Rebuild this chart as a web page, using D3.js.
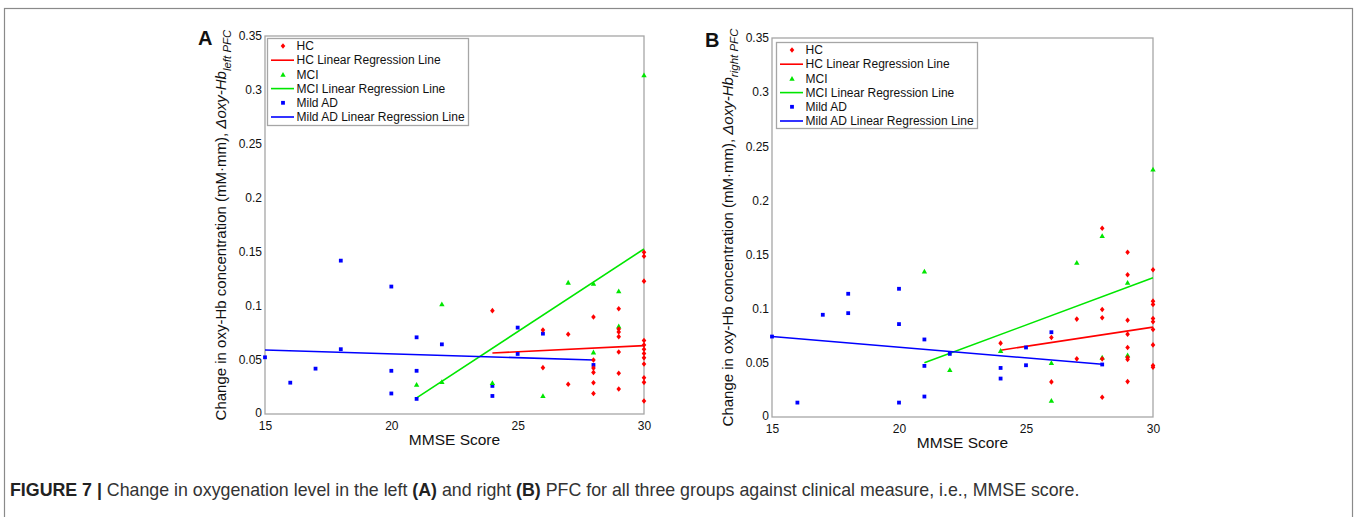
<!DOCTYPE html>
<html>
<head>
<meta charset="utf-8">
<script src="https://cdn.jsdelivr.net/npm/d3@7"></script>
<style>
  html, body { margin: 0; padding: 0; background: #fff; }
  svg { display: block; font-family: "Liberation Sans", Arial, Helvetica, sans-serif; }
</style>
</head>
<body>
<svg id="chart" width="1359" height="517"></svg>
<script>
// ---------------- DATA ----------------
const xTicks = [15, 20, 25, 30];
const xTickLabels = ["15", "20", "25", "30"];
const yTicks = [0, 0.05, 0.1, 0.15, 0.2, 0.25, 0.3, 0.35];
const yTickLabels = ["0", "0.05", "0.1", "0.15", "0.2", "0.25", "0.3", "0.35"];
const legendLabels = ["HC", "HC Linear Regression Line", "MCI", "MCI Linear Regression Line", "Mild AD", "Mild AD Linear Regression Line"];
const panelLetters = ["A", "B"];
const xAxisTitle = "MMSE Score";
const yTitleMain = "Change in oxy-Hb concentration (mM\u00B7mm), ";
const yTitleDelta = "\u0394oxy-Hb";
const yTitleSubs = ["left PFC", "right PFC"];

// Panel A (left PFC)
const hcLeft = [[24,0.0957],[26,0.0778],[26,0.0429],[27,0.0738],[27,0.0275],
  [28,0.0898],[28,0.050],[28,0.0425],[28,0.0385],[28,0.029],[28,0.019],
  [29,0.0975],[29,0.0787],[29,0.076],[29,0.0716],[29,0.0574],[29,0.0377],[29,0.0231],
  [30,0.1497],[30,0.146],[30,0.123],[30,0.068],[30,0.064],[30,0.060],[30,0.056],[30,0.052],[30,0.0463],[30,0.0336],[30,0.0293],[30,0.012]];
const mciLeft = [[21,0.0275],[22,0.102],[22,0.030],[24,0.029],[26,0.017],[27,0.122],
  [28,0.121],[28,0.0574],[29,0.114],[29,0.0815],[30,0.314]];
const adLeft = [[15,0.0525],[16,0.029],[17,0.042],[18,0.142],[18,0.060],
  [20,0.118],[20,0.040],[20,0.019],[21,0.071],[21,0.040],[21,0.014],
  [22,0.0645],[24,0.026],[24,0.0167],[25,0.080],[25,0.0556],[26,0.0744],[28,0.0454]];
const hcLineLeft = [[24,0.0565],[30,0.0633]];
const mciLineLeft = [[21,0.015],[30,0.1528]];
const adLineLeft = [[15,0.0593],[28,0.0500]];

// Panel B (right PFC)
const hcRight = [[24,0.0682],[26,0.0734],[26,0.0324],[27,0.0904],[27,0.0537],
  [28,0.1743],[28,0.0993],[28,0.0916],[28,0.0537],[28,0.0182],
  [29,0.1521],[29,0.1314],[29,0.0894],[29,0.0765],[29,0.0642],[29,0.0549],[29,0.0531],[29,0.0327],
  [30,0.136],[30,0.107],[30,0.104],[30,0.091],[30,0.0879],[30,0.0808],[30,0.0666],[30,0.0475],[30,0.046]];
const mciRight = [[21,0.1348],[22,0.0438],[24,0.0614],[26,0.0503],[26,0.0154],[27,0.1428],
  [28,0.1675],[28,0.0552],[29,0.1243],[29,0.0574],[30,0.2289]];
const adRight = [[15,0.0743],[16,0.0133],[17,0.0944],[18,0.1138],[18,0.0959],
  [20,0.1184],[20,0.0858],[20,0.0133],[21,0.0716],[21,0.0472],[21,0.0189],
  [22,0.0583],[24,0.0453],[24,0.0355],[25,0.0642],[25,0.0478],[26,0.0783],[28,0.0485]];
const hcLineRight = [[24,0.0617],[30,0.083]];
const mciLineRight = [[21,0.050],[30,0.1286]];
const adLineRight = [[15,0.0743],[28,0.0487]];

const captionParts = [
  {t: "FIGURE 7 | ", b: true},
  {t: "Change in oxygenation level in the left ", b: false},
  {t: "(A)", b: true},
  {t: " and right ", b: false},
  {t: "(B)", b: true},
  {t: " PFC for all three groups against clinical measure, i.e., MMSE score.", b: false}
];

// ---------------- DRAWING ----------------
const svg = d3.select("#chart");
const RED = "#ff0000", GREEN = "#00e600", BLUE = "#0000ff", BOX = "#a6a6a6";

// figure frame
svg.append("rect").attr("x", 4.5).attr("y", 8.5).attr("width", 1348).attr("height", 530)
  .attr("fill", "none").attr("stroke", "#8a8a8a").attr("stroke-width", 1.2);

const diamond = { draw(ctx, s) { const w = 2.3, h = 2.8; ctx.moveTo(0,-h); ctx.lineTo(w,0); ctx.lineTo(0,h); ctx.lineTo(-w,0); ctx.closePath(); } };
const triangle = { draw(ctx, s) { const w = 2.7, h = 2.4; ctx.moveTo(0,-h); ctx.lineTo(w,h); ctx.lineTo(-w,h); ctx.closePath(); } };
const square = { draw(ctx, s) { const r = 1.9; ctx.rect(-r,-r,2*r,2*r); } };

const panels = [
  { left: 265, right: 644, top: 36, bottom: 414, hc: hcLeft, mci: mciLeft, ad: adLeft,
    lines: [hcLineLeft, mciLineLeft, adLineLeft], sub: yTitleSubs[0], letter: panelLetters[0],
    legend: {x: 267, y: 38, w: 201, h: 87} },
  { left: 772, right: 1153, top: 38, bottom: 417, hc: hcRight, mci: mciRight, ad: adRight,
    lines: [hcLineRight, mciLineRight, adLineRight], sub: yTitleSubs[1], letter: panelLetters[1],
    legend: {x: 776, y: 42, w: 201, h: 86} }
];

panels.forEach(p => {
  const x = d3.scaleLinear().domain([15, 30]).range([p.left, p.right]);
  const y = d3.scaleLinear().domain([0, 0.35]).range([p.bottom, p.top]);
  const g = svg.append("g");

  // plot box
  g.append("rect").attr("x", p.left).attr("y", p.top).attr("width", p.right - p.left).attr("height", p.bottom - p.top)
    .attr("fill", "none").attr("stroke", BOX).attr("stroke-width", 1.3);

  const xAxis = d3.axisBottom(x).tickValues(xTicks).tickFormat((d, i) => xTickLabels[i]).tickSize(0).tickPadding(7);
  const yAxis = d3.axisLeft(y).tickValues(yTicks).tickFormat((d, i) => yTickLabels[i]).tickSize(0).tickPadding(3);
  const gx = g.append("g").attr("transform", `translate(0,${p.bottom})`).call(xAxis);
  const gy = g.append("g").attr("transform", `translate(${p.left},0)`).call(yAxis);
  [gx, gy].forEach(a => {
    a.select(".domain").remove();
    a.selectAll("text").attr("font-size", 12).attr("fill", "#111").attr("font-family", "Liberation Sans, Arial, sans-serif");
  });
  gy.selectAll("text").filter(d => d === 0).attr("dy", "0.2em");

  // axis titles
  g.append("text").attr("x", (p.left + p.right) / 2).attr("y", p.bottom + 31)
    .attr("text-anchor", "middle").attr("font-size", 15.5).attr("fill", "#111").text(xAxisTitle);

  const yt = g.append("text")
    .attr("transform", `translate(${p.left - 39},${(p.top + p.bottom) / 2}) rotate(-90)`)
    .attr("text-anchor", "middle").attr("font-size", 15).attr("fill", "#111");
  yt.append("tspan").text(yTitleMain);
  yt.append("tspan").attr("font-style", "italic").text(yTitleDelta);
  yt.append("tspan").attr("font-style", "italic").attr("font-size", 11.5).attr("dy", 5).text(p.sub);

  // panel letter
  g.append("text").attr("x", p.left - 67).attr("y", p.top + 9).attr("font-size", 20).attr("font-weight", "bold")
    .attr("fill", "#111").text(p.letter);

  // regression lines
  const colors = [RED, GREEN, BLUE];
  const line = d3.line().x(d => x(d[0])).y(d => y(d[1]));
  p.lines.forEach((ln, i) => {
    g.append("path").attr("d", line(ln)).attr("fill", "none").attr("stroke", colors[i]).attr("stroke-width", 1.6);
  });

  // points
  const sym = t => d3.symbol().type(t)();
  const drawPts = (data, type, color) => {
    g.append("g").selectAll("path").data(data).join("path")
      .attr("d", sym(type)).attr("fill", color)
      .attr("transform", d => `translate(${x(d[0])},${y(d[1])})`);
  };
  drawPts(p.ad, square, BLUE);
  drawPts(p.mci, triangle, GREEN);
  drawPts(p.hc, diamond, RED);

  // legend
  const L = p.legend;
  const lg = g.append("g");
  lg.append("rect").attr("x", L.x + 0.5).attr("y", L.y + 0.5).attr("width", L.w).attr("height", L.h)
    .attr("fill", "#fff").attr("stroke", BOX).attr("stroke-width", 1.3);
  const rowH = 14.2;
  const legendKinds = [["m", diamond, RED], ["l", null, RED], ["m", triangle, GREEN], ["l", null, GREEN], ["m", square, BLUE], ["l", null, BLUE]];
  legendLabels.forEach((lab, i) => {
    const cy = L.y + 8 + i * rowH;
    const k = legendKinds[i];
    if (k[0] === "m") {
      lg.append("path").attr("d", sym(k[1])).attr("fill", k[2]).attr("transform", `translate(${L.x + 16},${cy})`);
    } else {
      lg.append("line").attr("x1", L.x + 4).attr("x2", L.x + 27).attr("y1", cy).attr("y2", cy)
        .attr("stroke", k[2]).attr("stroke-width", 1.6);
    }
    lg.append("text").attr("x", L.x + 29.5).attr("y", cy).attr("dy", "0.35em").attr("font-size", 12)
      .attr("fill", "#111").text(lab);
  });
});

// caption
const cap = svg.append("text").attr("x", 10).attr("y", 496).attr("font-size", 17.8).attr("fill", "#333");
captionParts.forEach(c => {
  cap.append("tspan").attr("font-weight", c.b ? "bold" : "normal").attr("fill", c.b ? "#222" : "#333").text(c.t);
});
</script>
</body>
</html>
